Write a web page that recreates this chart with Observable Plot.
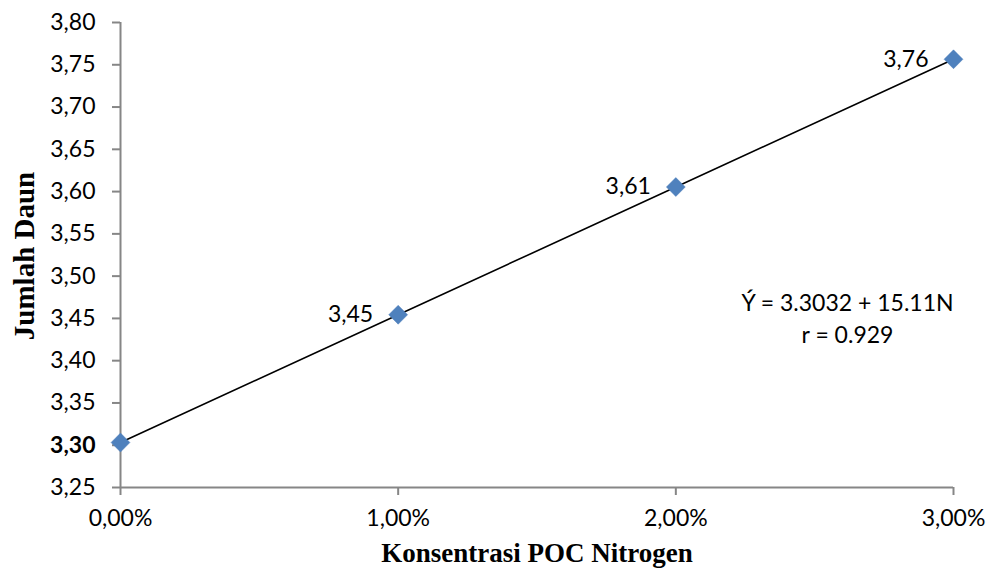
<!DOCTYPE html>
<html>
<head>
<meta charset="utf-8">
<script src="https://cdn.jsdelivr.net/npm/d3@7"></script>
<script src="https://cdn.jsdelivr.net/npm/@observablehq/plot@0.6"></script>
<style>
  html, body { margin: 0; padding: 0; background: #fff; }
</style>
</head>
<body>
<div id="chart"></div>
<script>
const konsentrasi = [0, 0.01, 0.02, 0.03];
const jumlahDaun = [3.3032, 3.4543, 3.6054, 3.7565];
const dataLabels = ["", "3,45", "3,61", "3,76"];
const yTicks = [3.25, 3.30, 3.35, 3.40, 3.45, 3.50, 3.55, 3.60, 3.65, 3.70, 3.75, 3.80];
const xTicks = [0, 0.01, 0.02, 0.03];
const yTitle = "Jumlah Daun";
const xTitle = "Konsentrasi POC Nitrogen";
const equation = "Ý = 3.3032 + 15.11N\nr = 0.929";

const data = konsentrasi.map((x, i) => ({x, y: jumlahDaun[i], label: dataLabels[i]}));

const sans = "Lato, 'Open Sans', sans-serif";
const serif = "'Liberation Serif', 'DejaVu Serif', serif";
const axisGray = "#868686";
const yFmt = d => d3.format(".2f")(d).replace(".", ",");

const chart = Plot.plot({
  width: 992,
  height: 575,
  marginLeft: 120,
  marginRight: 39,
  marginTop: 22,
  marginBottom: 88,
  style: {fontFamily: sans, fontSize: "23px", color: "#000", background: "#fff"},
  x: {domain: [0, 0.03], ticks: xTicks},
  y: {domain: [3.25, 3.80], ticks: yTicks},
  marks: [
    Plot.axisY({
      ticks: yTicks,
      tickSize: 8,
      tickPadding: 17,
      stroke: axisGray,
      strokeWidth: 2,
      tickFormat: yFmt,
      fill: "#000",
      fontSize: 23,
      label: null
    }),
    Plot.axisX({
      ticks: xTicks,
      tickSize: 8,
      tickPadding: 14,
      stroke: axisGray,
      strokeWidth: 2,
      tickFormat: d => d3.format(".2%")(d).replace(".", ","),
      fill: "#000",
      fontSize: 23,
      label: null
    }),
    Plot.ruleX([0], {stroke: axisGray, strokeWidth: 2}),
    Plot.ruleY([3.25], {stroke: axisGray, strokeWidth: 2}),
    Plot.line(data, {x: "x", y: "y", stroke: "#000", strokeWidth: 1.6}),
    Plot.dot(data, {x: "x", y: "y", symbol: "diamond2", r: 8.5, fill: "#4F81BD", stroke: "#4F81BD", strokeWidth: 0.5}),
    Plot.text(data, {x: "x", y: "y", text: "label", textAnchor: "end", dx: -25, fontSize: 23, fill: "#000"}),
    Plot.text([equation], {frameAnchor: "top-right", dx: -106, dy: 294, textAnchor: "middle", lineAnchor: "middle", lineHeight: 1.42, fontSize: 23, fill: "#000"}),
    Plot.text([yTitle], {frameAnchor: "left", dx: -96, dy: 1, rotate: -90, textAnchor: "middle", fontFamily: serif, fontWeight: "bold", fontSize: 29, fill: "#000"}),
    Plot.text([xTitle], {frameAnchor: "bottom", dy: 74, textAnchor: "middle", fontFamily: serif, fontWeight: "bold", fontSize: 27, fill: "#000"})
  ]
});
d3.select(chart).selectAll("g[aria-label='y-axis tick label'] text")
  .filter(function() { return this.textContent === "3,30"; })
  .attr("font-weight", "bold");
document.getElementById("chart").appendChild(chart);
</script>
</body>
</html>
